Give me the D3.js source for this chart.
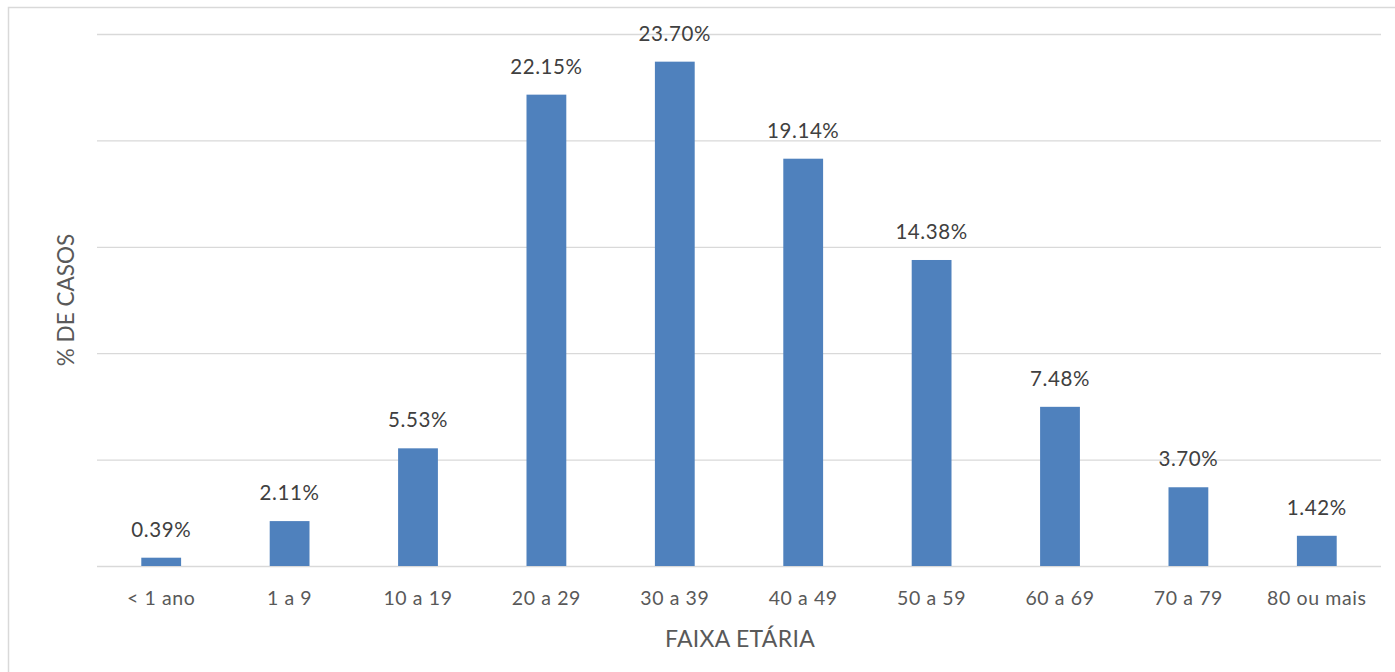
<!DOCTYPE html>
<html><head><meta charset="utf-8">
<script src="https://cdn.jsdelivr.net/npm/d3@7"></script>
<style>body{margin:0;background:#fff;}svg{display:block;font-family:Lato,Calibri,sans-serif;}</style>
</head><body><svg id="c" width="1395" height="672"></svg>
<script>
const categories = ["< 1 ano","1 a 9","10 a 19","20 a 29","30 a 39","40 a 49","50 a 59","60 a 69","70 a 79","80 ou mais"];
const values = [0.39,2.11,5.53,22.15,23.70,19.14,14.38,7.48,3.70,1.42];
const yTicks = [0,5,10,15,20,25];
const yTitle = "% DE CASOS";
const xTitle = "FAIXA ETÁRIA";

const svg = d3.select("#c");
svg.append("rect").attr("x",8.5).attr("y",7.5).attr("width",1400).attr("height",700)
  .attr("fill","none").attr("stroke","#d9d9d9").attr("stroke-width",1.5);

const m = {l:97, r:1381, t:34, b:566};
const x = d3.scaleBand().domain(categories).range([m.l,m.r]).paddingInner(0.69).paddingOuter(0.345);
const y = d3.scaleLinear().domain([0,25]).range([m.b,m.t]);

const g = svg.append("g");
g.selectAll("line.grid").data(yTicks).join("line").attr("class","grid")
  .attr("x1",m.l).attr("x2",m.r).attr("y1",d=>y(d)+0.5).attr("y2",d=>y(d)+0.5)
  .attr("stroke","#d9d9d9").attr("stroke-width",1.3);

g.selectAll("rect.bar").data(values).join("rect").attr("class","bar")
  .attr("x",(d,i)=>x(categories[i])).attr("width",x.bandwidth())
  .attr("y",d=>y(d)).attr("height",d=>y(0)-y(d)).attr("fill","#4f81bd");

g.selectAll("text.lbl").data(values).join("text").attr("class","lbl")
  .attr("x",(d,i)=>x(categories[i])+x.bandwidth()/2).attr("y",d=>y(d)-21)
  .attr("text-anchor","middle").attr("font-size",20.5).attr("letter-spacing",0.6).attr("fill","#404040")
  .text(d=>d.toFixed(2)+"%");

const xa = d3.axisBottom(x).tickSize(0).tickPadding(0);
const ax = svg.append("g").attr("transform",`translate(0,${m.b})`).call(xa);
ax.select(".domain").remove();
ax.selectAll("text").attr("font-size",19.5).attr("letter-spacing",0.6).attr("fill","#595959").attr("dy",0).attr("y",39)
  .style("font-family","Lato,Calibri,sans-serif");

svg.append("text").attr("x",740).attr("y",647).attr("text-anchor","middle")
  .attr("font-size",23).attr("letter-spacing",0.3).attr("fill","#595959").text(xTitle);
svg.append("text").attr("transform","translate(74,300) rotate(-90)").attr("text-anchor","middle")
  .attr("font-size",22.5).attr("fill","#595959").text(yTitle);
</script></body></html>
